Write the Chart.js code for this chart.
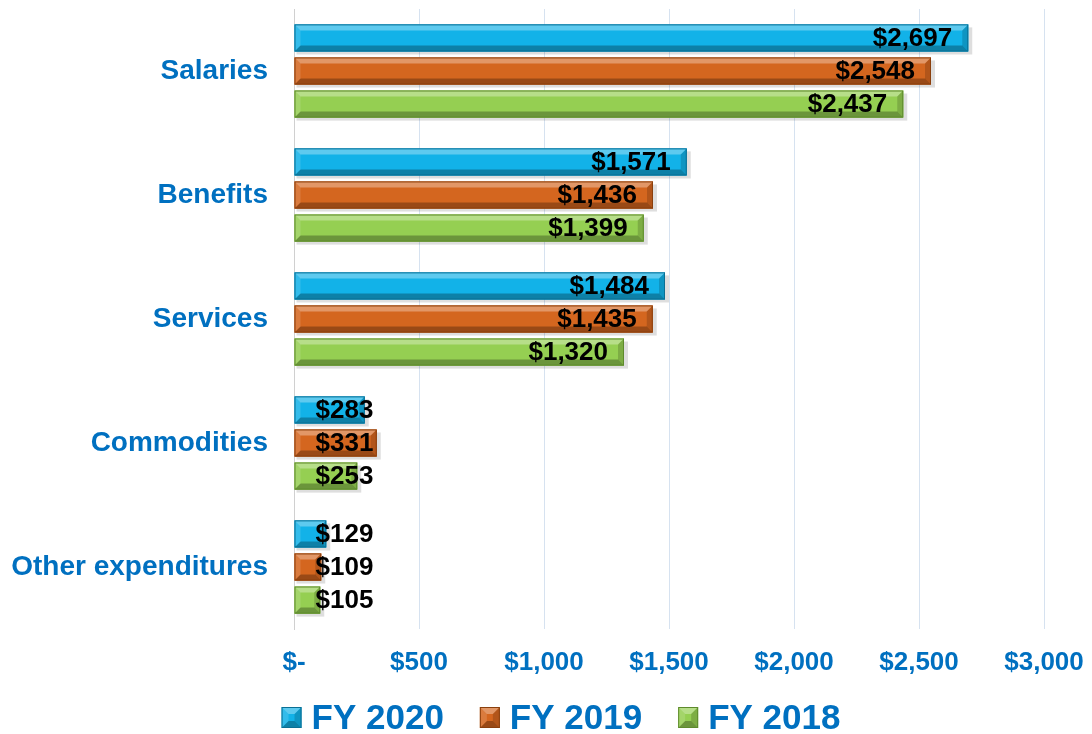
<!DOCTYPE html>
<html>
<head>
<meta charset="utf-8">
<title>Expenditures by category</title>
<script src="https://cdn.jsdelivr.net/npm/chart.js@4"></script>
<style>
    html, body { margin: 0; padding: 0; background: #ffffff; }
    #wrap { width: 1092px; height: 734px; }
</style>
</head>
<body>
<div id="wrap"><canvas id="expChart" width="1092" height="734"></canvas></div>
<script>
// Data
const categories = ['Salaries', 'Benefits', 'Services', 'Commodities', 'Other expenditures'];
const seriesNames = ['FY 2020', 'FY 2019', 'FY 2018'];
const fy2020 = [2697, 1571, 1484, 283, 129];
const fy2019 = [2548, 1436, 1435, 331, 109];
const fy2018 = [2437, 1399, 1320, 253, 105];
const xTicks = [0, 500, 1000, 1500, 2000, 2500, 3000];

const FONT = "'Liberation Sans', Arial, sans-serif";
const TEXT_BLUE = '#0070C0';
const faceColors = ['#12B2E8', '#D4661F', '#95CF52'];
const edgeColors = ['#0A6F94', '#8A3F0D', '#5E8A2C'];

const money = v => '$' + Math.round(v).toLocaleString('en-US');

// Bevelled box, used for bars and legend markers
function bevel(ctx, L, T, R, B, face, edge, b) {
    ctx.save();
    ctx.fillStyle = face;
    ctx.fillRect(L, T, R - L, B - T);
    const poly = (pts, fill) => {
        ctx.beginPath();
        ctx.moveTo(pts[0][0], pts[0][1]);
        pts.slice(1).forEach(p => ctx.lineTo(p[0], p[1]));
        ctx.closePath();
        ctx.fillStyle = fill;
        ctx.fill();
    };
    poly([[L, T], [R, T], [R - b, T + b], [L + b, T + b]], 'rgba(255,255,255,0.32)');
    poly([[L, B], [R, B], [R - b, B - b], [L + b, B - b]], 'rgba(0,0,0,0.28)');
    poly([[L, T], [L + b, T + b], [L + b, B - b], [L, B]], 'rgba(255,255,255,0.14)');
    poly([[R, T], [R - b, T + b], [R - b, B - b], [R, B]], 'rgba(0,0,0,0.16)');
    ctx.strokeStyle = edge;
    ctx.lineWidth = 1;
    ctx.strokeRect(L + 0.5, T + 0.5, R - L - 1, B - T - 1);
    ctx.restore();
}

const bevelBars = {
    id: 'bevelBars',
    beforeDatasetsDraw(chart) {
        const ctx = chart.ctx;
        ctx.save();
        chart.data.datasets.forEach((ds, di) => {
            chart.getDatasetMeta(di).data.forEach(bar => {
                const h = bar.height;
                ctx.fillStyle = 'rgba(0,0,0,0.13)';
                ctx.fillRect(bar.base + 2, bar.y - h / 2 + 3, bar.x - bar.base + 2, h);
            });
        });
        ctx.restore();
    },
    afterDatasetsDraw(chart) {
        const ctx = chart.ctx;
        chart.data.datasets.forEach((ds, di) => {
            chart.getDatasetMeta(di).data.forEach(bar => {
                const h = bar.height;
                bevel(ctx, bar.base, bar.y - h / 2, bar.x, bar.y + h / 2,
                      faceColors[di], edgeColors[di], Math.min(6, (bar.x - bar.base) / 2));
            });
        });
        // value labels
        ctx.save();
        ctx.font = 'bold 26px ' + FONT;
        ctx.fillStyle = '#000000';
        ctx.textAlign = 'right';
        ctx.textBaseline = 'middle';
        chart.data.datasets.forEach((ds, di) => {
            chart.getDatasetMeta(di).data.forEach((bar, i) => {
                const txt = money(ds.data[i]);
                const w = ctx.measureText(txt).width;
                const xr = Math.max(bar.x - 16, bar.base + 21 + w);
                ctx.fillText(txt, xr, bar.y + 1);
            });
        });
        ctx.restore();
    }
};

// Legend with bevelled markers, drawn under the x axis
const bevelLegend = {
    id: 'bevelLegend',
    afterDraw(chart) {
        const ctx = chart.ctx;
        ctx.save();
        ctx.font = 'bold 35px ' + FONT;
        ctx.textBaseline = 'middle';
        ctx.textAlign = 'left';
        const box = 20, gapText = 10, gapItem = 36, cy = 718;
        const widths = seriesNames.map(n => ctx.measureText(n).width);
        const total = widths.reduce((a, w) => a + box + gapText + w, 0) + gapItem * (seriesNames.length - 1);
        let x = 561 - total / 2;
        seriesNames.forEach((name, i) => {
            bevel(ctx, x, cy - 11, x + box, cy - 11 + box + 1, faceColors[i], edgeColors[i], 7);
            ctx.fillStyle = TEXT_BLUE;
            ctx.fillText(name, x + box + gapText, cy + 1);
            x += box + gapText + widths[i] + gapItem;
        });
        ctx.restore();
    }
};

new Chart(document.getElementById('expChart').getContext('2d'), {
    type: 'bar',
    data: {
        labels: categories,
        datasets: [fy2020, fy2019, fy2018].map((vals, i) => ({
            label: seriesNames[i],
            data: vals,
            backgroundColor: faceColors[i],
            borderWidth: 0,
            categoryPercentage: 0.8,
            barPercentage: 0.82
        }))
    },
    options: {
        indexAxis: 'y',
        responsive: false,
        animation: false,
        layout: { padding: { top: 9, right: 48, left: 0, bottom: 56 } },
        scales: {
            x: {
                min: 0,
                max: 3000,
                afterBuildTicks: axis => { axis.ticks = xTicks.map(v => ({ value: v })); },
                afterFit: axis => {
                    axis.height = 49;
                    axis.paddingLeft = 0;
                    axis.paddingRight = 0;
                },
                grid: { color: '#D6E2F0', lineWidth: 1, drawTicks: false },
                border: { display: false },
                ticks: {
                    padding: 18,
                    maxRotation: 0,
                    color: TEXT_BLUE,
                    font: { family: FONT, size: 26, weight: 'bold' },
                    callback: v => v === 0 ? '$-' : money(v)
                }
            },
            y: {
                afterFit: axis => {
                    axis.width = 294;
                    axis.paddingTop = 0;
                    axis.paddingBottom = 0;
                },
                grid: { display: false, drawTicks: false },
                border: { display: true, color: '#D0D0D0' },
                ticks: {
                    padding: 26,
                    color: TEXT_BLUE,
                    font: { family: FONT, size: 28, weight: 'bold' }
                }
            }
        },
        plugins: {
            legend: { display: false },
            tooltip: { enabled: false }
        }
    },
    plugins: [bevelBars, bevelLegend]
});
</script>
</body>
</html>
